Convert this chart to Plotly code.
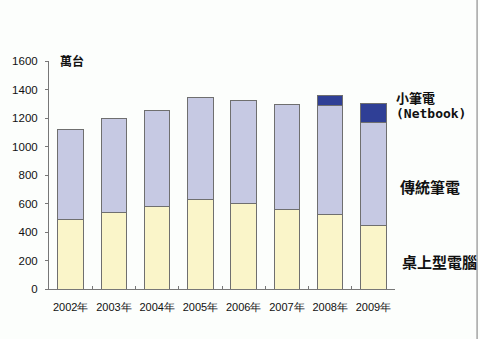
import plotly.graph_objects as go

years = ["2002年", "2003年", "2004年", "2005年", "2006年", "2007年", "2008年", "2009年"]
desktop = [490, 540, 580, 630, 600, 555, 525, 445]
notebook = [630, 655, 670, 715, 725, 740, 760, 725]
netbook = [None, None, None, None, None, None, 75, 130]

line = dict(color="#6f6f6f", width=1)
fig = go.Figure()
fig.add_trace(go.Bar(x=years, y=desktop, name="桌上型電腦", marker=dict(color="#FAF5C9", line=line)))
fig.add_trace(go.Bar(x=years, y=notebook, name="傳統筆電", marker=dict(color="#C6C9E3", line=line)))
fig.add_trace(go.Bar(x=years, y=netbook, name="小筆電", marker=dict(color="#2F3F96", line=line)))

L, R, T, B = 43, 85, 61, 50
W, H = 480, 339
pw, ph = W - L - R, H - T - B

def px(x):
    return (x - L) / pw

def py(y):
    return (H - B - y) / ph

font_lbl = dict(family="Noto Sans CJK TC, DejaVu Sans", size=15, color="#111111")
anns = [
    dict(text="<b>萬台</b>", x=px(52), y=py(60), font=dict(family="Noto Sans CJK TC", size=12, color="#111111"), xanchor="left"),
    dict(text="<b>小筆電</b>", x=px(394), y=py(98), font=dict(family="Noto Sans CJK TC", size=13, color="#111111"), xanchor="left"),
    dict(text="<b>(Netbook)</b>", x=px(394), y=py(114), font=dict(family="DejaVu Sans Mono", size=13, color="#111111"), xanchor="left"),
    dict(text="<b>傳統筆電</b>", x=px(398), y=py(186), font=font_lbl, xanchor="left"),
    dict(text="<b>桌上型電腦</b>", x=px(400), y=py(261), font=font_lbl, xanchor="left"),
]
for a in anns:
    a.update(xref="paper", yref="paper", showarrow=False, yanchor="middle")

fig.update_layout(
    barmode="stack",
    bargap=0.41,
    width=W, height=H,
    margin=dict(l=L, r=R, t=T, b=B, pad=0),
    paper_bgcolor="#FCFEFC",
    plot_bgcolor="#FCFEFC",
    showlegend=False,
    annotations=anns,
    shapes=[dict(type="line", xref="paper", yref="paper", x0=px(478.5), x1=px(478.5), y0=py(0), y1=py(339),
                 line=dict(color="#777777", width=1))],
    font=dict(family="Liberation Sans, Arial", size=11, color="#111111"),
)
fig.update_xaxes(showline=True, linecolor="#777777", linewidth=1, ticks="inside", ticklen=3,
                 tickcolor="#777777", tickson="boundaries", showgrid=False, tickangle=0,
                 ticklabelstandoff=8,
                 tickfont=dict(family="Liberation Sans, Arial", size=11, color="#111111"))
fig.update_yaxes(range=[0, 1600], dtick=200, showline=True, linecolor="#777777", linewidth=1,
                 ticks="outside", ticklen=3, tickcolor="#777777", showgrid=False, zeroline=False,
                 ticklabelstandoff=5,
                 tickfont=dict(family="Liberation Sans, Arial", size=11.5, color="#111111"))

fig.write_html("out.html")
